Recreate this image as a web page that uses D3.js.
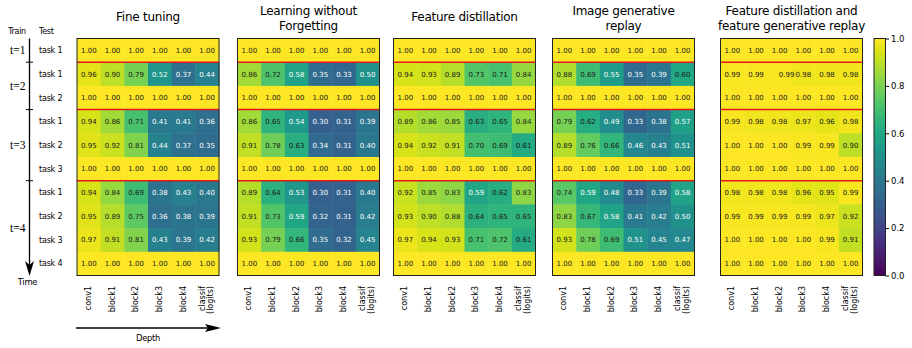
<!DOCTYPE html>
<html>
<head>
<meta charset="utf-8">
<script src="https://cdn.jsdelivr.net/npm/d3@7"></script>
<style>
  body { margin: 0; background: #fff; }
  svg { display: block; }
  text { font-family: "DejaVu Sans", sans-serif; }
</style>
</head>
<body>
<svg id="chart" width="912" height="348"></svg>
<script>
// Layers probed (columns) and the test tasks evaluated after each training step (rows)
const layers = ["conv1", "block1", "block2", "block3", "block4", "classif\n(logits)"];
const testTasks = ["task 1", "task 1", "task 2", "task 1", "task 2", "task 3", "task 1", "task 2", "task 3", "task 4"];
const trainSteps = ["t=1", "t=2", "t=3", "t=4"];
const rowsPerStep = [1, 2, 3, 4];

// Similarity of layer representations, one row per (train step, test task)
const fineTuning = [
  [1.00, 1.00, 1.00, 1.00, 1.00, 1.00],
  [0.96, 0.90, 0.79, 0.52, 0.37, 0.44],
  [1.00, 1.00, 1.00, 1.00, 1.00, 1.00],
  [0.94, 0.86, 0.71, 0.41, 0.41, 0.36],
  [0.95, 0.92, 0.81, 0.44, 0.37, 0.35],
  [1.00, 1.00, 1.00, 1.00, 1.00, 1.00],
  [0.94, 0.84, 0.69, 0.38, 0.43, 0.40],
  [0.95, 0.89, 0.75, 0.36, 0.38, 0.39],
  [0.97, 0.91, 0.81, 0.43, 0.39, 0.42],
  [1.00, 1.00, 1.00, 1.00, 1.00, 1.00]
];
const learningWithoutForgetting = [
  [1.00, 1.00, 1.00, 1.00, 1.00, 1.00],
  [0.86, 0.72, 0.58, 0.35, 0.33, 0.50],
  [1.00, 1.00, 1.00, 1.00, 1.00, 1.00],
  [0.86, 0.65, 0.54, 0.30, 0.31, 0.39],
  [0.91, 0.78, 0.63, 0.34, 0.31, 0.40],
  [1.00, 1.00, 1.00, 1.00, 1.00, 1.00],
  [0.89, 0.64, 0.53, 0.30, 0.31, 0.40],
  [0.91, 0.73, 0.59, 0.32, 0.31, 0.42],
  [0.93, 0.79, 0.66, 0.35, 0.32, 0.45],
  [1.00, 1.00, 1.00, 1.00, 1.00, 1.00]
];
const featureDistillation = [
  [1.00, 1.00, 1.00, 1.00, 1.00, 1.00],
  [0.94, 0.93, 0.89, 0.73, 0.71, 0.84],
  [1.00, 1.00, 1.00, 1.00, 1.00, 1.00],
  [0.89, 0.86, 0.85, 0.63, 0.65, 0.84],
  [0.94, 0.92, 0.91, 0.70, 0.69, 0.61],
  [1.00, 1.00, 1.00, 1.00, 1.00, 1.00],
  [0.92, 0.85, 0.83, 0.59, 0.62, 0.83],
  [0.93, 0.90, 0.88, 0.64, 0.65, 0.65],
  [0.97, 0.94, 0.93, 0.71, 0.72, 0.61],
  [1.00, 1.00, 1.00, 1.00, 1.00, 1.00]
];
const imageGenerativeReplay = [
  [1.00, 1.00, 1.00, 1.00, 1.00, 1.00],
  [0.88, 0.69, 0.55, 0.35, 0.39, 0.60],
  [1.00, 1.00, 1.00, 1.00, 1.00, 1.00],
  [0.79, 0.62, 0.49, 0.33, 0.38, 0.57],
  [0.89, 0.76, 0.66, 0.46, 0.43, 0.51],
  [1.00, 1.00, 1.00, 1.00, 1.00, 1.00],
  [0.74, 0.59, 0.48, 0.33, 0.39, 0.58],
  [0.83, 0.67, 0.58, 0.41, 0.42, 0.50],
  [0.93, 0.78, 0.69, 0.51, 0.45, 0.47],
  [1.00, 1.00, 1.00, 1.00, 1.00, 1.00]
];
const featureDistillationReplay = [
  [1.00, 1.00, 1.00, 1.00, 1.00, 1.00],
  [0.99, 0.99, 0.99, 0.98, 0.98, 0.98],
  [1.00, 1.00, 1.00, 1.00, 1.00, 1.00],
  [0.99, 0.98, 0.98, 0.97, 0.96, 0.98],
  [1.00, 1.00, 1.00, 0.99, 0.99, 0.90],
  [1.00, 1.00, 1.00, 1.00, 1.00, 1.00],
  [0.98, 0.98, 0.98, 0.96, 0.95, 0.99],
  [0.99, 0.99, 0.99, 0.99, 0.97, 0.92],
  [1.00, 1.00, 1.00, 1.00, 0.99, 0.91],
  [1.00, 1.00, 1.00, 1.00, 1.00, 1.00]
];
const methodTitles = [
  ["Fine tuning"],
  ["Learning without", "Forgetting"],
  ["Feature distillation"],
  ["Image generative", "replay"],
  ["Feature distillation and", "feature generative replay"]
];
const methodValues = [fineTuning, learningWithoutForgetting, featureDistillation, imageGenerativeReplay, featureDistillationReplay];
const colorTicks = [0.0, 0.2, 0.4, 0.6, 0.8, 1.0];

// ---- layout ----
const svg = d3.select("#chart");
const panelLefts = [77, 237.5, 393.5, 552.5, 720.5];
const panelW = 142;
const plotTop = 38.5, panelH = 237;
const color = d3.scaleSequential(d3.interpolateViridis).domain([0, 1]);

const y = d3.scaleBand().domain(d3.range(testTasks.length)).range([plotTop, plotTop + panelH]);
const x = d3.scaleBand().domain(d3.range(layers.length)).range([0, panelW]);

// row indices where a new training step begins
const stepStarts = Array.from(d3.cumsum([0, ...rowsPerStep])).slice(0, rowsPerStep.length);
const boundaryRows = stepStarts.slice(1);

methodValues.forEach((values, m) => {
  const g = svg.append("g").attr("transform", `translate(${panelLefts[m]},0)`);
  const cells = values.flatMap((row, r) => row.map((v, c) => ({ r, c, v })));

  g.selectAll("rect.cell").data(cells).join("rect")
    .attr("class", "cell")
    .attr("x", d => x(d.c))
    .attr("y", d => y(d.r))
    .attr("width", x.bandwidth() + 0.5)
    .attr("height", y.bandwidth() + 0.5)
    .attr("fill", d => color(d.v));

  g.selectAll("text.val").data(cells).join("text")
    .attr("class", "val")
    .attr("x", d => x(d.c) + x.bandwidth() / 2 + ((m === 4 && d.r === 1 && d.c === 2) ? 7 : 0))
    .attr("y", d => y(d.r) + y.bandwidth() / 2)
    .attr("dy", "0.35em")
    .attr("text-anchor", "middle")
    .attr("font-size", 7)
    .attr("fill", d => d.v < 0.6 ? "#ffffff" : "#1a1a1a")
    .text(d => d3.format(".2f")(d.v));

  // red separators between training steps
  g.selectAll("line.sep").data(boundaryRows).join("line")
    .attr("class", "sep")
    .attr("x1", 0).attr("x2", panelW)
    .attr("y1", r => y(r)).attr("y2", r => y(r))
    .attr("stroke", "#e8141c").attr("stroke-width", 1.5);

  g.append("rect")
    .attr("x", 0).attr("y", plotTop).attr("width", panelW).attr("height", panelH)
    .attr("fill", "none").attr("stroke", "#222").attr("stroke-width", 1);

  // title
  const lines = methodTitles[m];
  const tt = g.append("text")
    .attr("text-anchor", "middle")
    .attr("font-size", 12)
    .attr("letter-spacing", -0.25)
    .attr("fill", "#000");
  lines.forEach((ln, i) => {
    tt.append("tspan")
      .attr("x", panelW / 2)
      .attr("y", lines.length === 1 ? 21 : 14.5 + i * 15)
      .text(ln);
  });

  // rotated layer labels
  layers.forEach((lab, c) => {
    const parts = lab.split("\n");
    const cx = x(c) + x.bandwidth() / 2;
    parts.forEach((p, i) => {
      const off = (i - (parts.length - 1) / 2) * 8.5;
      g.append("text")
        .attr("transform", `translate(${cx + off + 2},${plotTop + panelH + 10.5}) rotate(-90)`)
        .attr("text-anchor", "end")
        .attr("font-size", 8)
        .attr("fill", "#000")
        .text(p);
    });
  });
});

// ---- left axis: train steps and test tasks ----
const axisX = 29.5;
svg.append("text").attr("x", 17).attr("y", 34).attr("text-anchor", "middle")
  .attr("font-size", 8).attr("letter-spacing", -0.3).text("Train");
svg.append("text").attr("x", 39).attr("y", 34)
  .attr("font-size", 8).attr("letter-spacing", -0.3).text("Test");

svg.selectAll("text.task").data(testTasks).join("text")
  .attr("class", "task")
  .attr("x", 39)
  .attr("y", (d, i) => y(i) + y.bandwidth() / 2)
  .attr("dy", "0.35em")
  .attr("font-size", 8)
  .attr("letter-spacing", -0.2)
  .text(d => d);

svg.selectAll("text.step").data(trainSteps).join("text")
  .attr("class", "step")
  .attr("x", 25.5)
  .attr("y", (d, i) => {
    const r0 = stepStarts[i], r1 = r0 + rowsPerStep[i];
    return (y(r0) + y(r1 - 1) + y.bandwidth()) / 2;
  })
  .attr("dy", "0.35em")
  .attr("text-anchor", "end")
  .style("font-family", "'Liberation Serif', serif")
  .attr("font-size", 11.5)
  .text(d => d);

svg.append("line")
  .attr("x1", axisX).attr("x2", axisX).attr("y1", plotTop).attr("y2", 266)
  .attr("stroke", "#000").attr("stroke-width", 1.3);
svg.append("path")
  .attr("d", `M${axisX - 4.5},261 L${axisX},276 L${axisX + 4.5},261 L${axisX},265 Z`)
  .attr("fill", "#000");
svg.selectAll("line.steptick").data(boundaryRows).join("line")
  .attr("class", "steptick")
  .attr("x1", axisX - 3.5).attr("x2", axisX + 3.5)
  .attr("y1", r => y(r)).attr("y2", r => y(r))
  .attr("stroke", "#000").attr("stroke-width", 1);
svg.append("text").attr("x", 27.5).attr("y", 284.5).attr("text-anchor", "middle")
  .attr("font-size", 8.5).attr("letter-spacing", -0.3).text("Time");

// ---- depth arrow under the first panel ----
svg.append("line")
  .attr("x1", 76).attr("x2", 210).attr("y1", 328).attr("y2", 328)
  .attr("stroke", "#000").attr("stroke-width", 1.3);
svg.append("path")
  .attr("d", `M205,324 L221,328 L205,332 L208,328 Z`)
  .attr("fill", "#000");
svg.append("text").attr("x", 148).attr("y", 341).attr("text-anchor", "middle")
  .attr("font-size", 8.4).attr("letter-spacing", -0.3).text("Depth");

// ---- colorbar ----
const cbX = 874, cbW = 11.5;
const defs = svg.append("defs");
const grad = defs.append("linearGradient").attr("id", "viridisGrad")
  .attr("x1", 0).attr("y1", 1).attr("x2", 0).attr("y2", 0);
d3.range(0, 1.0001, 0.02).forEach(t => {
  grad.append("stop").attr("offset", t).attr("stop-color", color(t));
});
svg.append("rect").attr("x", cbX).attr("y", plotTop).attr("width", cbW).attr("height", panelH)
  .attr("fill", "url(#viridisGrad)").attr("stroke", "#222").attr("stroke-width", 1);
const cbScale = d3.scaleLinear().domain([0, 1]).range([plotTop + panelH, plotTop]);
const cbAxis = d3.axisRight(cbScale).tickValues(colorTicks).tickFormat(d3.format(".1f")).tickSize(3.5).tickPadding(2);
const cbG = svg.append("g").attr("transform", `translate(${cbX + cbW},0)`).call(cbAxis);
cbG.select(".domain").remove();
cbG.selectAll("text").attr("font-size", 8.5).attr("font-family", "DejaVu Sans, sans-serif").attr("fill", "#000");
cbG.selectAll("line").attr("stroke", "#000");
</script>
</body>
</html>
